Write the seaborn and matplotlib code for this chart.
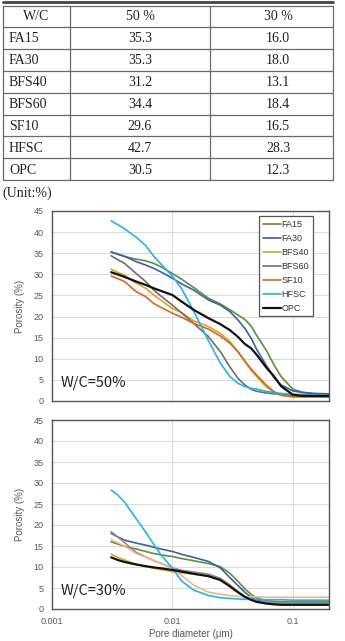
import numpy as np
import pandas as pd
import seaborn as sns
import matplotlib.pyplot as plt

# table values (total porosity, %)
mixes = ["FA15", "FA30", "BFS40", "BFS60", "SF10", "HFSC", "OPC"]
total_50 = ["35.3", "35.3", "31.2", "34.4", "29.6", "42.7", "30.5"]
total_30 = ["16.0", "18.0", "13.1", "18.4", "16.5", "28.3", "12.3"]

# pore diameter (um) shared by all curves
diameter = [0.0031, 0.0035, 0.004, 0.005, 0.006, 0.007, 0.008, 0.01, 0.012, 0.015,
            0.02, 0.025, 0.03, 0.035, 0.04, 0.045, 0.05, 0.06, 0.07, 0.08,
            0.1, 0.12, 0.15, 0.2]

# W/C = 50 %
fa15_50 = [35.3, 34.8, 34.2, 33.6, 33.2, 32.6, 31.8, 30.2, 28.8, 26.9, 24.3, 23.0,
           21.6, 20.4, 19.3, 17.8, 15.6, 12.1, 8.5, 5.8, 2.8, 2.1, 1.7, 1.5]
fa30_50 = [35.3, 34.8, 34.3, 33.0, 32.2, 31.4, 30.6, 29.1, 27.7, 26.3, 23.9, 22.7,
           21.2, 19.2, 17.2, 14.9, 12.3, 8.5, 5.5, 3.8, 2.4, 2.0, 1.8, 1.7]
bfs40_50 = [31.2, 30.5, 29.8, 27.9, 26.7, 25.1, 23.9, 21.9, 20.9, 19.0, 17.6, 16.0,
            14.1, 11.7, 9.3, 7.3, 5.8, 3.4, 2.0, 1.3, 1.0, 1.0, 1.0, 1.0]
bfs60_50 = [34.4, 33.5, 32.6, 30.2, 28.3, 26.3, 24.9, 22.7, 20.8, 18.4, 15.2, 11.7,
            8.1, 5.4, 3.8, 2.8, 2.3, 1.9, 1.7, 1.6, 1.3, 1.2, 1.1, 1.0]
sf10_50 = [29.6, 29.0, 28.3, 25.9, 24.7, 23.1, 22.2, 20.8, 19.8, 18.4, 17.0, 15.4,
           13.7, 11.7, 9.5, 7.6, 6.2, 3.8, 2.2, 1.4, 1.0, 1.0, 1.0, 1.0]
hfsc_50 = [42.7, 41.8, 40.8, 38.8, 36.8, 34.3, 32.5, 29.6, 26.5, 21.3, 14.2, 9.0,
           5.8, 4.2, 3.4, 3.0, 2.8, 2.3, 2.0, 1.8, 1.6, 1.5, 1.4, 1.4]
opc_50 = [30.5, 30.0, 29.4, 28.3, 27.5, 26.7, 26.1, 25.1, 23.5, 21.6, 19.6, 18.2,
          16.8, 15.2, 13.5, 12.5, 11.0, 8.0, 5.8, 3.5, 1.5, 1.2, 1.2, 1.2]

# W/C = 30 %
fa15_30 = [16.0, 15.5, 14.9, 14.3, 13.7, 13.2, 12.9, 12.5, 12.0, 11.5, 10.8, 10.1,
           8.5, 6.6, 4.8, 3.5, 2.6, 2.0, 1.8, 1.7, 1.7, 1.7, 1.7, 1.7]
fa30_30 = [18.0, 17.2, 16.4, 15.7, 15.2, 14.7, 14.3, 13.7, 13.0, 12.3, 11.3, 9.8,
           7.5, 5.6, 4.0, 2.8, 2.1, 1.6, 1.5, 1.5, 1.5, 1.5, 1.5, 1.5]
bfs40_30 = [13.1, 12.3, 11.7, 10.6, 10.1, 9.7, 9.4, 8.9, 8.6, 8.3, 7.9, 7.3,
            5.8, 4.2, 3.0, 2.2, 1.8, 1.6, 1.5, 1.5, 1.5, 1.5, 1.5, 1.5]
bfs60_30 = [18.4, 17.2, 15.8, 13.5, 12.4, 11.5, 10.9, 9.8, 9.2, 8.8, 8.3, 7.3,
            5.6, 4.0, 2.8, 2.1, 1.8, 1.6, 1.5, 1.5, 1.5, 1.5, 1.5, 1.5]
sf10_30 = [16.5, 15.8, 15.0, 13.2, 12.3, 11.6, 10.9, 9.8, 7.9, 5.7, 4.0, 3.5,
           3.2, 3.0, 2.9, 2.9, 2.9, 2.8, 2.8, 2.8, 2.8, 2.8, 2.8, 2.8]
hfsc_30 = [28.3, 27.2, 25.5, 21.5, 18.3, 15.4, 13.0, 9.7, 6.6, 4.5, 3.2, 2.7,
           2.5, 2.4, 2.3, 2.3, 2.3, 2.2, 2.2, 2.2, 2.1, 2.1, 2.1, 2.1]
opc_30 = [12.3, 11.7, 11.2, 10.6, 10.2, 9.9, 9.7, 9.3, 8.9, 8.4, 7.8, 6.9,
          5.4, 4.0, 2.9, 2.2, 1.7, 1.3, 1.1, 1.0, 1.0, 1.0, 1.0, 1.0]

colors_50 = ["#5E8E3C", "#3E5EA6", "#D9A523", "#6E6E6E", "#D2691F", "#21B5EA", "#111111"]
colors_30 = ["#5E8E3C", "#3E5EA6", "#D9A523", "#8C8C8C", "#F2B48C", "#21B5EA", "#111111"]


def long_frame(series):
    rows = []
    for mix, vals in zip(mixes, series):
        for d, v in zip(diameter, vals):
            rows.append({"mix": mix, "d": d, "porosity": v})
    return pd.DataFrame(rows)


df50 = long_frame([fa15_50, fa30_50, bfs40_50, bfs60_50, sf10_50, hfsc_50, opc_50])
df30 = long_frame([fa15_30, fa30_30, bfs40_30, bfs60_30, sf10_30, hfsc_30, opc_30])

sns.set_style("whitegrid")
plt.rcParams["font.family"] = ["Liberation Sans", "DejaVu Sans"]

W, H = 345, 641
fig = plt.figure(figsize=(W / 100, H / 100), dpi=100)

# ---- table drawn in pixel coordinates ----
tab = fig.add_axes([0, 0, 1, 1])
tab.set_xlim(0, W)
tab.set_ylim(H, 0)
tab.axis("off")
serif = ["Liberation Serif", "DejaVu Serif"]
row_lines = [6, 27, 49, 70.5, 92.5, 114.5, 136, 158, 180]
for y in row_lines:
    tab.plot([3, 333], [y, y], color="#6a6a6a", lw=0.9)
for x in [3, 70, 210, 333]:
    tab.plot([x, x], [6, 180], color="#6a6a6a", lw=0.9)
tab.plot([3, 333], [2, 2], color="#444444", lw=2.0)
header = ["W/C", "50 %", "30 %"]
tab.text(36, 17, header[0], family=serif, fontsize=10, ha="center", va="center", color="#222222")
tab.text(140, 17, header[1], family=serif, fontsize=10, ha="center", va="center", color="#222222")
tab.text(278, 17, header[2], family=serif, fontsize=10, ha="center", va="center", color="#222222")
for i, m in enumerate(mixes):
    yc = (row_lines[i + 1] + row_lines[i + 2]) / 2 + 1
    tab.text(9, yc, m, family=serif, fontsize=10, ha="left", va="center", color="#222222")
    tab.text(140, yc, total_50[i], family=serif, fontsize=10, ha="center", va="center", color="#222222")
    tab.text(278, yc, total_30[i], family=serif, fontsize=10, ha="center", va="center", color="#222222")
tab.text(2, 193, "(Unit:%)", family=serif, fontsize=10, ha="left", va="center", color="#222222")

# ---- pore size distribution charts ----
ax1 = fig.add_axes([52 / W, 1 - 401 / H, 277 / W, 190 / H])
ax2 = fig.add_axes([52 / W, 1 - 609 / H, 277 / W, 189 / H])

panels = [(ax1, df50, colors_50, "W/C=50%"), (ax2, df30, colors_30, "W/C=30%")]
for ax, df, cols, label in panels:
    pal = dict(zip(mixes, cols))
    sns.lineplot(data=df, x="d", y="porosity", hue="mix", palette=pal,
                 hue_order=mixes, ax=ax, linewidth=1.2, legend=(ax is ax1),
                 estimator=None, sort=False)
    for ln in ax.get_lines():
        if ln.get_color() == "#111111":
            ln.set_linewidth(1.6)
    ax.set_xscale("log")
    ax.set_xlim(0.001, 0.2)
    ax.set_ylim(0, 45)
    ax.set_yticks(np.arange(0, 46, 5))
    ax.grid(True, which="major", color="#d9d9d9", lw=0.7)
    ax.grid(False, which="minor")
    for s in ax.spines.values():
        s.set_color("#555555")
        s.set_linewidth(1.0)
    ax.tick_params(axis="y", length=0, pad=6, labelsize=6.5, labelcolor="#595959")
    ax.set_ylabel("Porosity (%)", fontsize=7, color="#595959", labelpad=6)
    ax.set_xlabel("")
    ax.text(0.03, 0.06, label, transform=ax.transAxes, fontsize=10.5,
            family=["Noto Sans CJK JP", "DejaVu Sans"], color="#222222",
            ha="left", va="bottom")

ax1.tick_params(axis="x", which="both", length=0, labelbottom=False)
ax2.set_xticks([0.001, 0.01, 0.1])
ax2.set_xticklabels(["0.001", "0.01", "0.1"])
ax2.tick_params(axis="x", which="major", length=3, width=0.6, color="#555555",
                labelsize=6.5, labelcolor="#595959", pad=3)
ax2.tick_params(axis="x", which="minor", length=2.5, width=0.6, color="#555555")
ax2.tick_params(axis="x", which="minor", labelbottom=False)
ax2.set_xlabel("Pore diameter (\u03bcm)", fontsize=7, color="#595959", labelpad=2)

leg = ax1.legend(loc="upper right", bbox_to_anchor=(0.958, 0.995), fontsize=6.5,
                 frameon=True, fancybox=False, framealpha=1, edgecolor="#555555",
                 handlelength=2.0, handletextpad=0.1, labelspacing=0.55,
                 borderpad=0.4, title=None)
leg.get_frame().set_linewidth(0.9)
for t in leg.get_texts():
    t.set_color("#333333")

fig.savefig("out.png", dpi=100)
